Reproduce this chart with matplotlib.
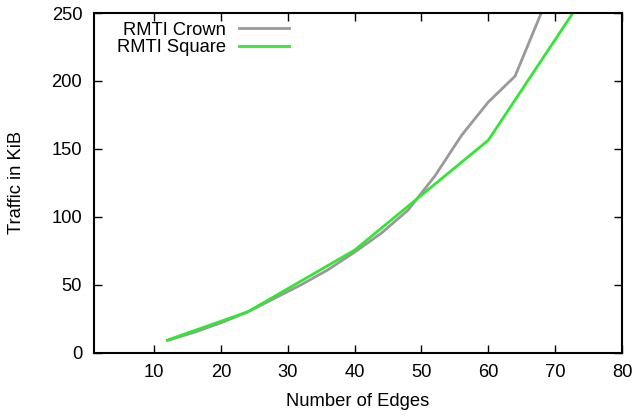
import matplotlib
matplotlib.use("Agg")
import matplotlib.pyplot as plt

crown_x = [12, 16, 20, 24, 28, 32, 36, 40, 44, 48, 52, 56, 60, 64, 68]
crown_y = [9, 15, 22, 30, 40, 50, 61, 74, 88, 105, 130, 160, 184.5, 203.5, 251]
square_x = [12, 24, 40, 60, 84]
square_y = [9.3, 30.1, 75.5, 156.4, 334]

xticks = [10, 20, 30, 40, 50, 60, 70, 80]
yticks = [0, 50, 100, 150, 200, 250]

plt.rcParams['font.family'] = ['Liberation Sans', 'DejaVu Sans']
plt.rcParams['font.size'] = 13.2

fig = plt.figure(figsize=(6.35, 4.16), dpi=100)
ax = fig.add_axes([94/635, (416-352.7)/416, (622-94)/635, (352.7-13)/416])

ax.plot(crown_x, crown_y, color='#999999', lw=2, label='RMTI Crown')
ax.plot(square_x, square_y, color='#33e633', lw=2, label='RMTI Square')

ax.set_xlim(1, 80)
ax.set_ylim(0, 250)
ax.set_xticks(xticks)
ax.set_yticks(yticks)
ax.tick_params(direction='in', length=6, width=1, top=True, right=True,
               labeltop=False, labelright=False, color='black')
ax.tick_params(axis='y', pad=8.5)
ax.tick_params(axis='x', pad=8)
for s in ax.spines.values():
    s.set_linewidth(1.5)

ax.set_xlabel('Number of Edges', labelpad=9)
ax.set_ylabel('Traffic in KiB', labelpad=19)

leg = ax.legend(loc='upper right', bbox_to_anchor=(0.369, 0.974), markerfirst=False,
                frameon=False, borderpad=0, borderaxespad=0, handlelength=2.7,
                handletextpad=0.72, labelspacing=0.02)

fig.savefig('out.png', dpi=100)
